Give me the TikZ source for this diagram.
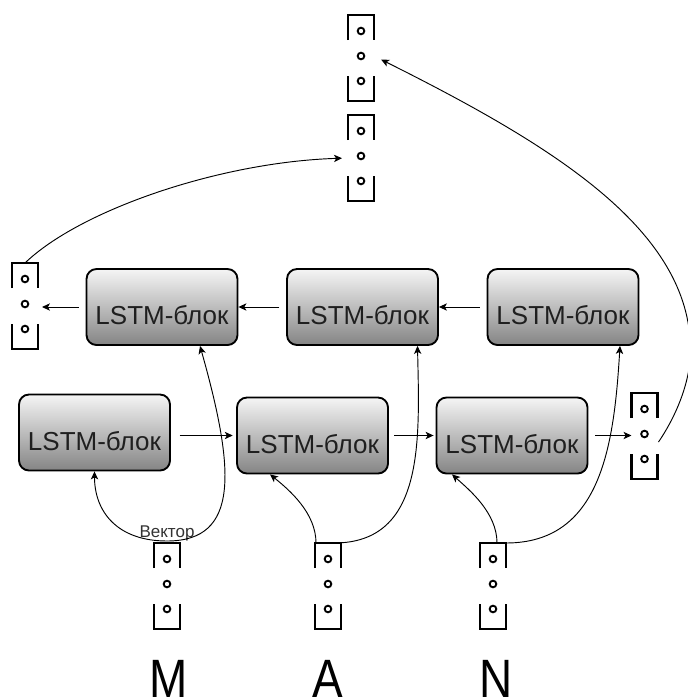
\documentclass[tikz,border=0pt]{standalone}
\usepackage{fontspec}
\setmainfont{Liberation Sans}
\usepackage{graphicx}
\usetikzlibrary{arrows.meta}
\begin{document}
\begin{tikzpicture}[x=0.75pt,y=-0.75pt,
  lstm/.style={draw=black, line width=1.4pt, rounded corners=7.5pt,
    top color=black!4, bottom color=black!48,
    minimum width=113.25pt, minimum height=57pt, inner sep=0pt,
    text=black!88, font=\fontsize{19.5}{20}\selectfont,
    text height=26.25pt, text depth=0pt},
  vec/.style={rectangle, minimum width=19.5pt, minimum height=64.5pt,
    inner sep=0pt, outer sep=0pt, anchor=north},
  bracket/.style={line width=1.8pt, line join=miter, line cap=butt},
  ring/.style={line width=1.4pt},
  conn/.style={draw, line width=0.7pt,
    -{Stealth[length=6pt,width=5.5pt,inset=1.6pt]}},
  letter/.style={anchor=base, inner sep=0pt, font=\fontsize{40.5}{42}\selectfont},
  vlabel/.style={anchor=base, inner sep=0pt, text=black!80,
    font=\fontsize{12.75}{14}\selectfont}]

\useasboundingbox (0,0) rectangle (688,700);

% LSTM blocks: backward row (top) and forward row (bottom)
\node[lstm] (B1) at (162,307)   {LSTM-блок};
\node[lstm] (B2) at (362.5,307) {LSTM-блок};
\node[lstm] (B3) at (563,307)   {LSTM-блок};
\node[lstm] (A1) at (94.5,432.5)  {LSTM-блок};
\node[lstm] (A2) at (312.5,435.5) {LSTM-блок};
\node[lstm] (A3) at (512,435.5)   {LSTM-блок};

% column vectors
\node[vec] (vt1) at (361,15)  {};
\node[vec] (vt2) at (361,115) {};
\node[vec] (vl)  at (25,263)  {};
\node[vec] (vr)  at (644.5,393) {};
\node[vec] (vm)  at (167,543) {};
\node[vec] (va)  at (328,543) {};
\node[vec] (vn)  at (493,543) {};

\foreach \v in {vt1,vt2,vl,vr,vm,va,vn} {
  \draw[bracket] ([shift={(0,25)}]\v.north west) -- (\v.north west)
    -- (\v.north east) -- ([shift={(0,25)}]\v.north east);
  \draw[bracket] ([shift={(0,-25)}]\v.south west) -- (\v.south west)
    -- (\v.south east) -- ([shift={(0,-25)}]\v.south east);
  \foreach \d in {16,41,66}
    \draw[ring] ([shift={(0,\d)}]\v.north) circle[radius=2.5pt];
}

% input label and letters
\node[vlabel] (vmlabel) at ([shift={(0,-6)}]vm.north) {Вектор};
\node[letter] (lm) at (169,697) {\scalebox{0.85}[1]{M}};
\node[letter] (la) at (328,697) {\scalebox{0.85}[1]{A}};
\node[letter] (ln) at (496,697) {\scalebox{0.85}[1]{N}};

% straight connectors
\draw[conn, shorten <=5pt] (B3.west) -- (B2.east);
\draw[conn, shorten <=5pt] (B2.west) -- (B1.east);
\draw[conn, shorten <=5pt, shorten >=3pt] (B1.west) -- (B1.west -| vl.east);
\draw[conn, shorten <=6.5pt, shorten >=2.5pt] (A1.east |- A2.west) -- (A2.west);
\draw[conn, shorten <=4pt, shorten >=1.5pt] (A2.west -| A2.east) -- (A3.west);
\draw[conn, shorten <=5pt] (A3.east) -- (A3.east -| vr.west);

% inputs into both directions
\draw[conn] ([shift={(0,-2)}]vm.north) .. controls +(-50,0) and +(0,40) .. (A1.south);
\draw[conn] ([shift={(0,-2)}]vm.north) .. controls +(73,0) and +(35,124) .. ([shift={(38,0)}]B1.south);
\draw[conn] ([shift={(-12,0)}]va.north) .. controls +(0,-30) and +(19.5,15.6) .. ([shift={(-42.5,0)}]A2.south);
\draw[conn] ([shift={(6,0)}]va.north) .. controls +(91,0) and +(2,94) .. ([shift={(55,0)}]B2.south);
\draw[conn] ([shift={(4,0)}]vn.north) .. controls +(0,-30) and +(18,16) .. ([shift={(-60,0)}]A3.south);
\draw[conn] (vn.north east) .. controls +(95,0) and +(-6,100) .. ([shift={(57,0)}]B3.south);

% outputs of both directions
\draw[conn, shorten >=4.5pt] (vl.north) .. controls +(55,-53) and +(-128,4) .. (vt2.west);
\draw[conn, shorten >=6pt] ([shift={(1,6)}]vr.east)
  .. controls +(15,-22) and +(0,35) .. ++(32,-92)
  .. controls +(0,-120) and +(180,90) .. ([shift={(0,-2)}]vt1.east);

\end{tikzpicture}
\end{document}
